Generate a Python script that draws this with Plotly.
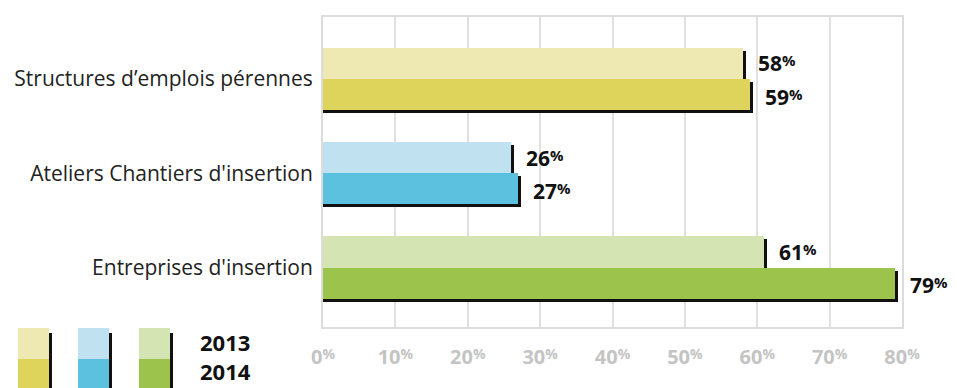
import plotly.graph_objects as go

# ---- data ----
categories = ["Structures d’emplois pérennes", "Ateliers Chantiers d'insertion", "Entreprises d'insertion"]
values_2013 = [58, 26, 61]
values_2014 = [59, 27, 79]
years = ["2013", "2014"]
x_ticks = [0, 10, 20, 30, 40, 50, 60, 70, 80]

# ---- style ----
colors_2013 = ["#EEE9B3", "#BFE1F0", "#D4E5B3"]
colors_2014 = ["#DED45C", "#5BC1DF", "#9CC44C"]
FONT = "Open Sans"
W, H = 957, 388
L, R, T, B = 323, 55, 17, 61
PW, PH = W - L - R, H - T - B
XMAX = 80
YR = [-0.63, 2.657]
px_x = XMAX / PW                      # data units per pixel (x)
px_y = (YR[1] - YR[0]) / PH           # data units per pixel (y)
BW = 0.33
OFF = 0.165

n = len(categories)
pos = [n - 1 - i for i in range(n)]
y13 = [p + OFF for p in pos]
y14 = [p - OFF for p in pos]

fig = go.Figure()
sx, sy = 3 * px_x, 3 * px_y
for yv, vals, cols in [(y13, values_2013, colors_2013), (y14, values_2014, colors_2014)]:
    fig.add_trace(go.Bar(orientation="h", y=[y - sy for y in yv], x=[v + sx for v in vals],
                         width=BW, marker=dict(color="#111111", line=dict(width=0)),
                         hoverinfo="skip", showlegend=False))
    fig.add_trace(go.Bar(orientation="h", y=yv, x=vals, width=BW,
                         marker=dict(color=cols, line=dict(width=0)), showlegend=False))

def lab(v):
    return f"{v}<span style='font-size:15px;baseline-shift:5px'>%</span>"

for yv, vals, dy in [(y13, values_2013, 0), (y14, values_2014, -2)]:
    for y, v in zip(yv, vals):
        fig.add_annotation(x=v, y=y, text=lab(v), showarrow=False, xanchor="left",
                           yanchor="middle", xshift=13, yshift=dy,
                           font=dict(family=FONT, size=21, color="#111111", weight=700))

# ---- legend (drawn) ----
def paper_x(p):
    return (p - L) / PW

def paper_y(p):
    return (H - B - p) / PH

legend_x = [18, 78, 139]
for lx, c13, c14 in zip(legend_x, colors_2013, colors_2014):
    fig.add_shape(type="rect", xref="paper", yref="paper", x0=paper_x(lx), x1=paper_x(lx + 31),
                  y0=paper_y(359), y1=paper_y(328), fillcolor=c13, line_width=0, layer="above")
    fig.add_shape(type="rect", xref="paper", yref="paper", x0=paper_x(lx), x1=paper_x(lx + 31),
                  y0=paper_y(390), y1=paper_y(359), fillcolor=c14, line_width=0, layer="above")
    fig.add_shape(type="rect", xref="paper", yref="paper", x0=paper_x(lx + 31), x1=paper_x(lx + 34),
                  y0=paper_y(390), y1=paper_y(333), fillcolor="#111111", line_width=0, layer="above")
for yr, yc in zip(years, [342, 371]):
    fig.add_annotation(xref="paper", yref="paper", x=paper_x(199), y=paper_y(yc), text=yr,
                       showarrow=False, xanchor="left", yanchor="middle", borderpad=0,
                       font=dict(family=FONT, size=22, color="#111111", weight=700))

fig.update_layout(
    width=W, height=H, margin=dict(l=L, r=R, t=T, b=B, autoexpand=False),
    paper_bgcolor="white", plot_bgcolor="white",
    barmode="overlay", bargap=0,
    font=dict(family=FONT),
    xaxis=dict(range=[0, XMAX], tickvals=x_ticks, automargin=False,
               ticktext=[f"{t}<span style='font-size:14px;baseline-shift:5px'>%</span>" for t in x_ticks],
               showgrid=True, gridcolor="#e0e0e0", gridwidth=2,
               showline=True, mirror=True, linecolor="#dcdcdc", linewidth=2,
               zeroline=False, ticks="", ticklabelstandoff=11,
               tickfont=dict(family=FONT, size=20, color="#c4c4c4", weight=700),
               fixedrange=True),
    yaxis=dict(range=YR, tickvals=pos, ticktext=categories, automargin=False,
               showgrid=False, zeroline=False,
               showline=True, mirror=True, linecolor="#dcdcdc", linewidth=2,
               ticks="", ticklabelstandoff=4,
               tickfont=dict(family=FONT, size=21, color="#222222"),
               fixedrange=True),
)

fig.write_html("out.html")
